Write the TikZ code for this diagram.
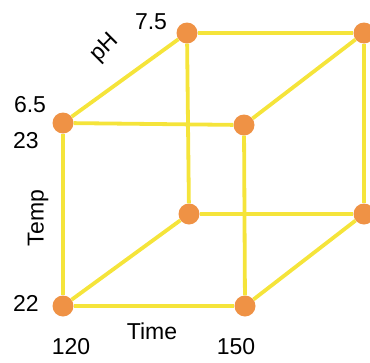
\documentclass[tikz,border=0pt]{standalone}
\usepackage{fontspec}
\setmainfont{Liberation Sans}
\usepackage{tikz}
\usetikzlibrary{positioning}
\definecolor{maizeyellow}{RGB}{245,228,58}
\definecolor{mangoorange}{RGB}{239,146,69}
\tikzset{
  vertice/.style={
    circle,
    fill=mangoorange,
    minimum size=21pt,
    inner sep=0pt
  },
  arista/.style={
    line width=3.8pt,
    maizeyellow
  },
  etiq/.style={
    inner sep=0pt,
    font=\fontsize{23}{27}\selectfont
  }
}
\begin{document}
\begin{tikzpicture}[x=1pt,y=-1pt]
\useasboundingbox (0,0) rectangle (370,362);
% front face
\node[vertice] (fbl) at (63,306) {};
\node[vertice] (fbr) at (245,306) {};
\node[vertice] (ftl) at (63,123) {};
\node[vertice] (ftr) at (244,125) {};
% back face
\node[vertice] (bbl) at (189,214) {};
\node[vertice] (bbr) at (364,214) {};
\node[vertice] (btl) at (187,33) {};
\node[vertice] (btr) at (364,33) {};
% edges
\draw[arista] (fbl) -- (fbr);
\draw[arista] (fbl) -- (ftl);
\draw[arista] (ftl) -- (ftr);
\draw[arista] (fbr) -- (ftr);
\draw[arista] (bbl) -- (bbr);
\draw[arista] (bbl) -- (btl);
\draw[arista] (btl) -- (btr);
\draw[arista] (bbr) -- (btr);
\draw[arista] (fbl) -- (bbl);
\draw[arista] (fbr) -- (bbr);
\draw[arista] (ftl) -- (btl);
\draw[arista] (ftr) -- (btr);
% labels
\node[etiq] (ph75) at (151,22) {7.5};
\node[etiq, rotate=45] (ph) at (105,48) {pH};
\node[etiq] (ph65) at (30,105) {6.5};
\node[etiq] (t23) at (26,141) {23};
\node[etiq, rotate=90] (temp) at (38,218) {Temp};
\node[etiq] (t22) at (26,303) {22};
\node[etiq] (time) at (152,331) {Time};
\node[etiq] (m120) at (71,347) {120};
\node[etiq] (m150) at (236,347) {150};
\end{tikzpicture}
\end{document}
